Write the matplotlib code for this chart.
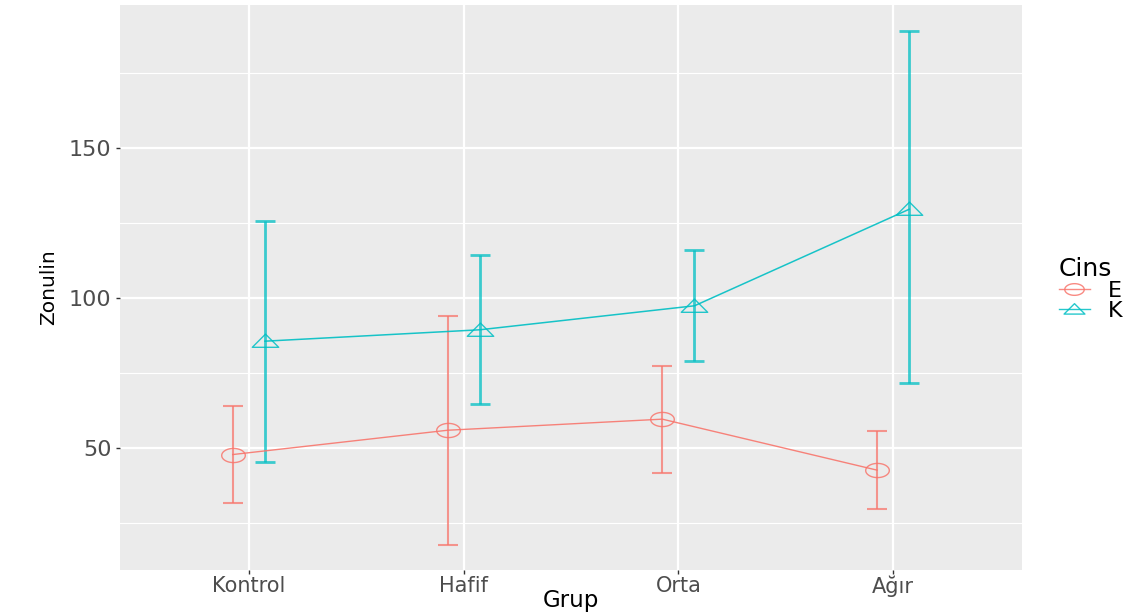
# Zonulin by group and sex: mean points with error bars, ggplot-like look.

import numpy as np
import matplotlib.pyplot as plt
from matplotlib.path import Path
from matplotlib.lines import Line2D

groups = ["Kontrol", "Hafif", "Orta", "Ağır"]
sexes = ["E", "K"]

mean_E = [47.9, 56.0, 59.7, 42.7]
low_E = [31.6, 17.9, 41.6, 29.9]
high_E = [64.0, 94.1, 77.4, 55.7]

mean_K = [85.7, 89.5, 97.5, 129.7]
low_K = [45.3, 64.7, 79.0, 71.9]
high_K = [125.7, 114.6, 116.0, 189.1]

colors = {"E": "#F8766D", "K": "#00BFC4"}

# squashed markers, the reference is stretched horizontally
t = np.linspace(0, 2*np.pi, 60)
ellipse = Path(np.column_stack([0.5*np.cos(t), 0.3*np.sin(t)]), closed=True)
triangle = Path([(-0.5, -0.22), (0.5, -0.22), (0.0, 0.28), (-0.5, -0.22)], closed=True)
markers = {"E": ellipse, "K": triangle}

fig = plt.figure(figsize=(11.45, 6.15), dpi=100)
ax = fig.add_axes([120/1145, 45/615, 902/1145, 565/615])
ax.set_facecolor("#EBEBEB")

x = np.arange(1, len(groups) + 1)
dodge = 0.075
series = {
    "E": (mean_E, low_E, high_E, -dodge, 1.5, 1.0),
    "K": (mean_K, low_K, high_K, dodge, 2.0, 1.1),
}
for s in sexes:
    m, lo, hi, off, elw, llw = series[s]
    m = np.array(m)
    err = [m - np.array(lo), np.array(hi) - m]
    xs = x + off
    ax.errorbar(xs, m, yerr=err, fmt="none", ecolor=colors[s], elinewidth=elw,
                capsize=7.5, capthick=elw, alpha=0.75, zorder=3)
    ax.plot(xs, m, color=colors[s], lw=llw, alpha=0.9, zorder=4)
    ax.plot(xs, m, ls="none", marker=markers[s], markersize=17 if s == "E" else 19,
            markerfacecolor="none", markeredgecolor=colors[s], markeredgewidth=1.0,
            alpha=0.85, zorder=5)

ax.set_xlim(0.4, 4.6)
ax.set_ylim(9.4, 197.8)
ax.set_xticks(x)
ax.set_xticklabels(groups)
ax.set_yticks([50, 100, 150])
ax.set_yticks([25, 75, 125, 175], minor=True)

ax.grid(which="major", color="white", lw=1.6)
ax.grid(which="minor", axis="y", color="white", lw=0.8)
ax.set_axisbelow(True)
for sp in ax.spines.values():
    sp.set_visible(False)

ax.tick_params(axis="both", which="major", length=3, color="#333333",
               labelcolor="#4D4D4D", width=1)
ax.tick_params(axis="y", which="minor", length=0)
ax.tick_params(axis="x", labelsize=15, pad=1)
ax.tick_params(axis="y", labelsize=16, pad=3)

ax.set_xlabel("Grup", fontsize=16.5, va="top")
ax.xaxis.set_label_coords(0.5, -0.033)
ax.set_ylabel("Zonulin", fontsize=14.5, labelpad=8)

handles = [Line2D([0], [0], color=colors[s], lw=1.0, marker=markers[s],
                  markersize=14 if s == "E" else 15, markerfacecolor="none",
                  markeredgecolor=colors[s], alpha=0.85) for s in sexes]
leg = fig.legend(handles, sexes, loc="upper left",
                 bbox_to_anchor=(1050/1145, 1 - 248/615), frameon=False,
                 title="Cins", title_fontsize=18, fontsize=16,
                 labelspacing=0.0, handlelength=1.4, handletextpad=0.8,
                 alignment="left", borderaxespad=0)

fig.savefig("out.png", dpi=100)
